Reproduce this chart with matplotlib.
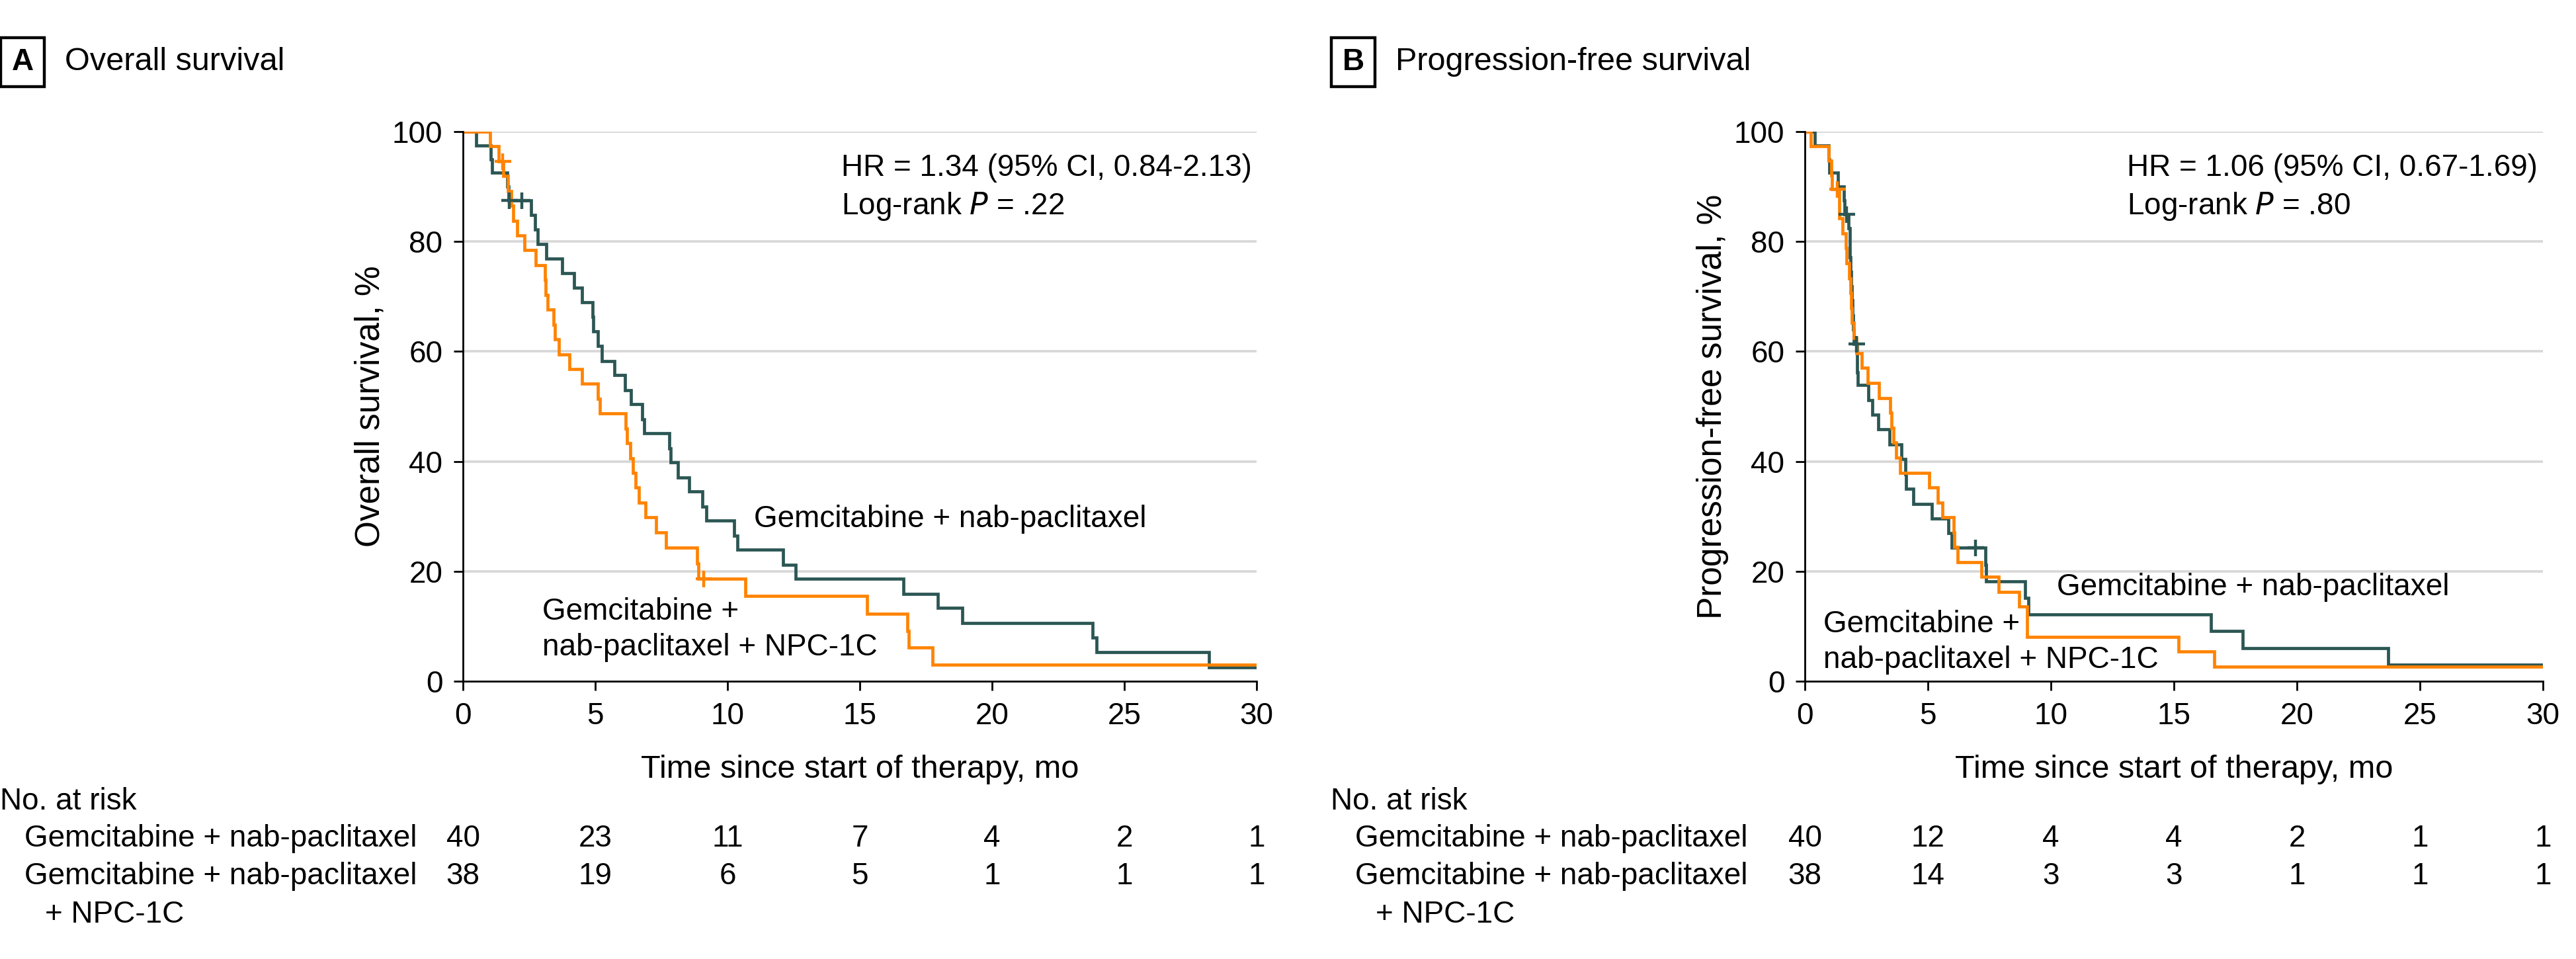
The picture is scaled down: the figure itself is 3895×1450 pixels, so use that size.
import numpy as np
import matplotlib
matplotlib.use("Agg")
import matplotlib.pyplot as plt
from matplotlib.transforms import blended_transform_factory
from matplotlib.patches import Rectangle

plt.rcParams["font.family"] = ["Liberation Sans", "DejaVu Sans"]

TEAL = "#2b5653"
ORANGE = "#ff8300"
GRID = "#d7d7d7"

# Overall survival (panel A)
os_gem_t = [0.49, 1.06, 1.10, 1.68, 1.72, 2.57, 2.73, 2.82, 3.15, 3.74, 4.21, 4.51, 4.89,
            4.93, 5.11, 5.24, 5.72, 6.13, 6.36, 6.78, 6.86, 7.80, 7.86, 8.13, 8.56, 9.04,
            9.20, 10.24, 10.38, 12.11, 12.58, 16.64, 17.96, 18.88, 23.79, 23.96, 28.2]
os_gem_s = [97.5, 95.0, 92.5, 90.0, 87.5, 84.8, 82.2, 79.5, 76.9, 74.2, 71.6, 68.9, 66.3,
            63.6, 61.0, 58.3, 55.7, 53.0, 50.4, 47.7, 45.1, 42.4, 39.8, 37.1, 34.5, 31.8,
            29.2, 26.5, 23.9, 21.2, 18.6, 15.9, 13.3, 10.6, 8.0, 5.3, 2.5]
os_gem_cens = [1.75, 2.22]

os_npc_t = [1.02, 1.36, 1.52, 1.69, 1.83, 1.91, 2.06, 2.33, 2.76, 3.11, 3.13, 3.19, 3.43,
            3.47, 3.63, 4.02, 4.50, 5.09, 5.17, 6.16, 6.21, 6.32, 6.43, 6.53, 6.66, 6.89,
            7.31, 7.67, 8.86, 8.90, 10.67, 15.28, 16.80, 16.86, 17.75]
os_npc_s = [97.3, 94.6, 91.9, 89.2, 86.5, 83.8, 81.1, 78.4, 75.7, 73.0, 70.3, 67.6, 64.9,
            62.2, 59.5, 56.8, 54.1, 51.4, 48.7, 46.0, 43.3, 40.6, 37.9, 35.2, 32.5, 29.8,
            27.1, 24.3, 21.4, 18.6, 15.5, 12.3, 9.2, 6.1, 3.0]
os_npc_cens = [1.49, 9.10]

# Progression-free survival (panel B)
pfs_gem_t = [0.40, 0.97, 0.99, 1.34, 1.58, 1.62, 1.78, 1.82, 1.84, 1.86, 1.88, 1.90, 1.93,
             1.96, 2.00, 2.12, 2.13, 2.14, 2.57, 2.73, 2.99, 3.45, 3.93, 4.08, 4.12, 4.41,
             5.15, 5.84, 5.97, 7.34, 7.36, 8.95, 9.08, 16.5, 17.8, 23.7]
pfs_gem_s = [97.5, 95.0, 92.5, 90.0, 87.5, 85.0, 82.4, 79.8, 77.1, 74.5, 71.9, 69.3, 66.6,
             64.0, 61.4, 58.6, 56.2, 53.9, 51.2, 48.5, 45.8, 43.1, 40.4, 37.7, 35.0, 32.3,
             29.6, 26.9, 24.3, 21.2, 18.2, 15.2, 12.1, 9.1, 6.0, 3.0]
pfs_gem_cens = [1.69, 2.09, 6.93]

pfs_npc_t = [0.25, 0.97, 1.07, 1.09, 1.39, 1.41, 1.52, 1.67, 1.69, 1.80, 1.85, 1.88, 1.92,
             1.98, 2.09, 2.32, 2.55, 3.02, 3.46, 3.53, 3.59, 3.70, 3.88, 5.06, 5.40, 5.58,
             6.05, 6.07, 6.20, 7.17, 7.87, 8.72, 9.03, 9.04, 15.2, 16.65]
pfs_npc_s = [97.4, 94.7, 92.1, 89.5, 86.8, 84.2, 81.5, 78.8, 76.0, 73.3, 70.6, 67.9, 65.2,
             62.5, 59.7, 57.0, 54.3, 51.5, 48.8, 46.1, 43.4, 40.7, 37.9, 35.2, 32.5, 29.8,
             27.1, 24.4, 21.7, 19.0, 16.3, 13.6, 10.8, 8.1, 5.4, 2.7]
pfs_npc_cens = [1.33]

risk_times = [0, 5, 10, 15, 20, 25, 30]
os_risk_gem = [40, 23, 11, 7, 4, 2, 1]
os_risk_npc = [38, 19, 6, 5, 1, 1, 1]
pfs_risk_gem = [40, 12, 4, 4, 2, 1, 1]
pfs_risk_npc = [38, 14, 3, 3, 1, 1, 1]

W, H = 3895, 1450
FS = 16.5
FS_AX = 17.5
fig = plt.figure(figsize=(W / 200, H / 200), dpi=200)


def km(ax, t, s, cens, color):
    tt = np.concatenate([[0], t, [30.3]])
    ss = np.concatenate([[100], s, [s[-1]]])
    ax.step(tt, ss, where="post", color=color, lw=1.7, solid_joinstyle="miter", zorder=3)
    idx = np.searchsorted(tt, cens, side="right") - 1
    ax.plot(cens, ss[idx], "+", color=color, ms=9, mew=1.6, zorder=4)


def panel(left, width, letter, title, ylabel, hr, p, gem, npc, risk_gem, risk_npc,
          lab1, lab2, table_x):
    ax = fig.add_axes([left / W, (H - 1030) / H, width / W, 831 / H])
    ax.set_xlim(0, 30)
    ax.set_ylim(0, 100)
    for y in range(20, 101, 20):
        ax.axhline(y, color=GRID, lw=1.3, zorder=1)
    km(ax, *gem, TEAL)
    km(ax, *npc, ORANGE)
    for sp in ["top", "right"]:
        ax.spines[sp].set_visible(False)
    for sp in ["left", "bottom"]:
        ax.spines[sp].set_linewidth(1.0)
        ax.spines[sp].set_zorder(5)
    ax.set_xticks(risk_times)
    ax.set_yticks(range(0, 101, 20))
    ax.tick_params(labelsize=FS, length=5, width=1.0, pad=6)
    ax.set_xlabel("Time since start of therapy, mo", fontsize=FS_AX, labelpad=13)
    ax.set_ylabel(ylabel, fontsize=FS_AX + 1, labelpad=3)

    ax.text(hr[0], hr[1], hr[2], fontsize=FS, va="baseline")
    ax.text(hr[0], hr[1] - 7.0, "Log-rank $\\it{P}$ = " + p, fontsize=FS, va="baseline")
    ax.text(lab1[0], lab1[1], "Gemcitabine + nab-paclitaxel", fontsize=FS, va="baseline")
    ax.text(lab2[0], lab2[1], "Gemcitabine +", fontsize=FS, va="baseline")
    ax.text(lab2[0], lab2[1] - 6.45, "nab-paclitaxel + NPC-1C", fontsize=FS,
            va="baseline")

    # panel letter box and title
    fig.patches.append(Rectangle(((table_x + 1) / W, 1 - 131 / H), 66 / W, 74 / H,
                                 transform=fig.transFigure, fill=False,
                                 edgecolor="black", lw=1.6))
    fig.text((table_x + 34) / W, 1 - 94 / H, letter, fontsize=FS, fontweight="bold",
             ha="center", va="center")
    fig.text((table_x + 98) / W, 1 - 94 / H, title, fontsize=FS + 1, va="center")

    # number at risk table
    tr = blended_transform_factory(ax.transData, fig.transFigure)
    fig.text(table_x / W, 1 - 1212 / H, "No. at risk", fontsize=FS, va="center")
    fig.text((table_x + 37) / W, 1 - 1268 / H, "Gemcitabine + nab-paclitaxel",
             fontsize=FS, va="center")
    fig.text((table_x + 37) / W, 1 - 1325 / H, "Gemcitabine + nab-paclitaxel",
             fontsize=FS, va="center")
    fig.text((table_x + 68) / W, 1 - 1383 / H, "+ NPC-1C", fontsize=FS, va="center")
    for x, a, b in zip(risk_times, risk_gem, risk_npc):
        ax.text(x, 1 - 1268 / H, str(a), transform=tr, fontsize=FS, ha="center",
                va="center", clip_on=False)
        ax.text(x, 1 - 1325 / H, str(b), transform=tr, fontsize=FS, ha="center",
                va="center", clip_on=False)
    return ax


panel(700, 1200, "A", "Overall survival", "Overall survival, %",
      (14.3, 91.9, "HR = 1.34 (95% CI, 0.84-2.13)"), ".22",
      (os_gem_t, os_gem_s, os_gem_cens), (os_npc_t, os_npc_s, os_npc_cens),
      os_risk_gem, os_risk_npc, (11.0, 28.0), (3.0, 11.2), 0)

panel(2729, 1116, "B", "Progression-free survival", "Progression-free survival, %",
      (13.1, 91.9, "HR = 1.06 (95% CI, 0.67-1.69)"), ".80",
      (pfs_gem_t, pfs_gem_s, pfs_gem_cens), (pfs_npc_t, pfs_npc_s, pfs_npc_cens),
      pfs_risk_gem, pfs_risk_npc, (10.25, 15.6), (0.75, 8.9), 2012)

fig.savefig("out.png", dpi=200, facecolor="white")
